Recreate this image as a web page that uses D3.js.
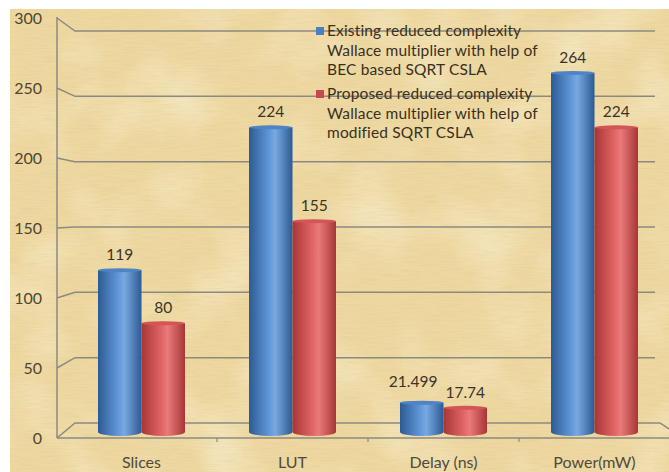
<!DOCTYPE html>
<html><head><meta charset="utf-8">
<script src="https://cdn.jsdelivr.net/npm/d3@7"></script>
<style>html,body{margin:0;padding:0;background:#fff;}svg{display:block;}</style>
</head><body>
<svg id="chart" width="669" height="472"></svg>
<script>
const categories = ["Slices", "LUT", "Delay (ns)", "Power(mW)"];
const seriesNames = [
  ["Existing reduced complexity", "Wallace multiplier with help of", "BEC based SQRT CSLA"],
  ["Proposed reduced complexity", "Wallace multiplier with help of", "modified SQRT CSLA"]
];
const existingValues = [119, 224, 21.499, 264];
const proposedValues = [80, 155, 17.74, 224];
const valueLabels = [["119", "224", "21.499", "264"], ["80", "155", "17.74", "224"]];
const yTicks = [0, 50, 100, 150, 200, 250, 300];

const W = 669, H = 472;
const svg = d3.select("#chart");
const font = "Lato, 'Open Sans', sans-serif";

// background parchment
const defs = svg.append("defs");
const f = defs.append("filter").attr("id", "paper").attr("x", 0).attr("y", 0).attr("width", "100%").attr("height", "100%");
f.append("feTurbulence").attr("type", "fractalNoise").attr("baseFrequency", "0.05 0.7").attr("numOctaves", 2).attr("seed", 3).attr("result", "n");
f.append("feColorMatrix").attr("in", "n").attr("type", "matrix")
  .attr("values", "0 0 0 0 0.62  0 0 0 0 0.5  0 0 0 0 0.28  0 0 0 -1.4 0.85");
const f2 = defs.append("filter").attr("id", "paper2").attr("x", 0).attr("y", 0).attr("width", "100%").attr("height", "100%");
f2.append("feTurbulence").attr("type", "fractalNoise").attr("baseFrequency", "0.015").attr("numOctaves", 2).attr("seed", 8).attr("result", "n");
f2.append("feColorMatrix").attr("in", "n").attr("type", "matrix")
  .attr("values", "0 0 0 0 1  0 0 0 0 0.97  0 0 0 0 0.85  0 0 0 -2 1.1");
svg.append("rect").attr("x", 10).attr("y", 9).attr("width", W - 10).attr("height", H - 9).attr("fill", "#eed8a0");
svg.append("rect").attr("x", 10).attr("y", 9).attr("width", W - 10).attr("height", H - 9).attr("filter", "url(#paper2)").attr("opacity", 0.45);
svg.append("rect").attr("x", 10).attr("y", 9).attr("width", W - 10).attr("height", H - 9).attr("filter", "url(#paper)").attr("opacity", 0.3);

// scales
const yBar = d3.scaleLinear().domain([0, 300]).range([432, 24]);
const yFront = d3.scaleLinear().domain([0, 300]).range([438, 18]);
const yBack = d3.scaleLinear().domain([0, 300]).range([423, 31]);
const x0 = d3.scaleBand().domain(categories).range([66, 670]).padding(0);
const x1 = d3.scaleBand().domain([0, 1]).range([(x0.bandwidth() - 87) / 2, (x0.bandwidth() + 87) / 2]);

const gridColor = "#8c8a80";
const axisX = 57, backX = 75;

// gridlines on back wall with perspective connectors
const grid = svg.append("g");
yTicks.forEach(t => {
  grid.append("path")
    .attr("d", `M${axisX},${yFront(t)}L${backX},${yBack(t)}L${t === 0 ? 660 : 655},${yBack(t)}` + (t === 0 ? `L669,429` : ""))
    .attr("fill", "none").attr("stroke", gridColor).attr("stroke-width", 1.5);
});
grid.append("line").attr("x1", axisX).attr("x2", axisX).attr("y1", yFront(300) - 1).attr("y2", yFront(0))
  .attr("stroke", gridColor).attr("stroke-width", 1.5);
grid.append("line").attr("x1", axisX).attr("x2", W).attr("y1", yFront(0)).attr("y2", yFront(0))
  .attr("stroke", gridColor).attr("stroke-width", 1.5);
categories.slice(1).forEach(c => {
  grid.append("line").attr("x1", x0(c)).attr("x2", x0(c)).attr("y1", yFront(0)).attr("y2", yFront(0) + 4)
    .attr("stroke", gridColor).attr("stroke-width", 1.2);
});

// y labels
svg.append("g").selectAll("text").data(yTicks).join("text")
  .attr("x", 42).attr("y", d => yFront(d)).attr("dy", "0.35em").attr("text-anchor", "end")
  .attr("font-family", font).attr("font-size", 16).attr("fill", "#4f4530").text(d => d);

// cylinder gradients
const palettes = [
  { edge: "#2c5b94", mid: "#5f95d6", light: "#7aa8e0", top: "#4e84c6" },
  { edge: "#a83636", mid: "#e06464", light: "#ea7a7a", top: "#d35555" }
];
palettes.forEach((p, i) => {
  const g = defs.append("linearGradient").attr("id", "cyl" + i).attr("x1", 0).attr("x2", 1).attr("y1", 0).attr("y2", 0);
  g.append("stop").attr("offset", "0%").attr("stop-color", p.edge);
  g.append("stop").attr("offset", "45%").attr("stop-color", p.mid);
  g.append("stop").attr("offset", "60%").attr("stop-color", p.light);
  g.append("stop").attr("offset", "100%").attr("stop-color", p.edge);
});

const series = [existingValues, proposedValues];
const bars = svg.append("g");
const labelNodes = [[], []];
series.forEach((vals, si) => {
  vals.forEach((v, ci) => {
    const c = categories[ci];
    const x = x0(c) + x1(si), w = x1.bandwidth();
    const top = yBar(v), bottom = yBar(0);
    const g = bars.append("g");
    g.append("ellipse").attr("cx", x + w / 2).attr("cy", bottom).attr("rx", w / 2).attr("ry", 4).attr("fill", `url(#cyl${si})`);
    g.append("rect").attr("x", x).attr("y", top).attr("width", w).attr("height", bottom - top).attr("fill", `url(#cyl${si})`);
    g.append("ellipse").attr("cx", x + w / 2).attr("cy", top).attr("rx", w / 2).attr("ry", 2).attr("fill", palettes[si].top);
    const t = g.append("text").attr("x", x + w / 2).attr("y", top - 10).attr("text-anchor", "middle")
      .attr("font-family", font).attr("font-size", 15.5).attr("fill", "#3a3428").text(valueLabels[si][ci]);
    labelNodes[si][ci] = t;
  });
});
// avoid overlapping value labels: nudge the first series label up and left
categories.forEach((c, ci) => {
  const a = labelNodes[0][ci], b = labelNodes[1][ci];
  const ba = a.node().getBBox(), bb = b.node().getBBox();
  const overlapX = ba.x + ba.width > bb.x - 4;
  const overlapY = ba.y < bb.y + bb.height && bb.y < ba.y + ba.height;
  if (overlapX && overlapY) {
    const shift = (ba.x + ba.width) - (bb.x - 8);
    a.attr("x", +a.attr("x") - shift).attr("y", +a.attr("y") - 6);
  }
});

// category labels
svg.append("g").selectAll("text").data(categories).join("text")
  .attr("x", d => x0(d) + x0.bandwidth() / 2).attr("y", 462).attr("dy", "0.35em").attr("text-anchor", "middle")
  .attr("font-family", font).attr("font-size", 16).attr("fill", "#4f4a3c").text(d => d);

// legend
const legend = svg.append("g");
const legendColors = ["#4a7fc4", "#c8484e"];
seriesNames.forEach((lines, si) => {
  const y0 = si === 0 ? 31 : 94;
  legend.append("rect").attr("x", 316).attr("y", y0 - 4).attr("width", 8).attr("height", 8).attr("fill", legendColors[si]);
  lines.forEach((t, li) => {
    legend.append("text").attr("x", 327).attr("y", y0 + li * 19.5).attr("dy", "0.35em")
      .attr("font-family", font).attr("font-size", 15.5).attr("letter-spacing", 0.15).attr("fill", "#3a3020").text(t);
  });
});
</script>
</body></html>
